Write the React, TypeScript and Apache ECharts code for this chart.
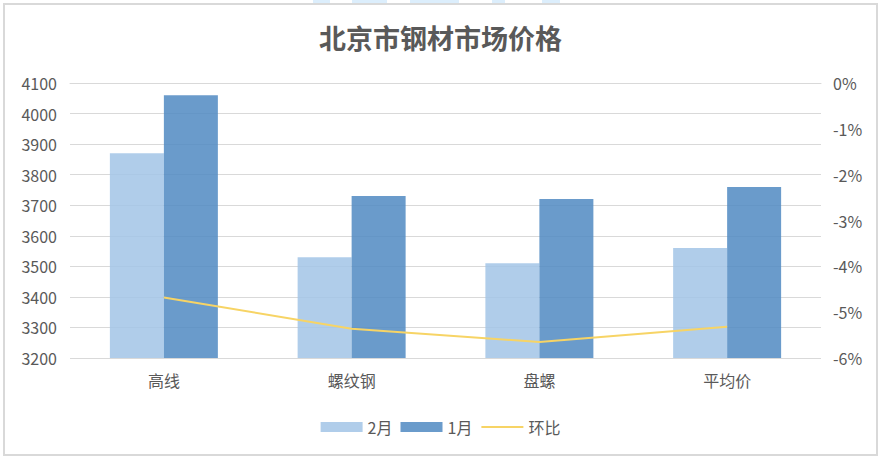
import React, { useEffect, useRef } from "react";
import * as echarts from "echarts";

const categories = ["高线", "螺纹钢", "盘螺", "平均价"];
const feb = [3870, 3530, 3510, 3560];
const jan = [4060, 3730, 3720, 3760];
const mom = [-0.0468, -0.0536, -0.0565, -0.0532];

const FONT = "'Noto Sans CJK SC', 'Liberation Sans', sans-serif";
const TXT = "#595959";

const watermarkBits: [number, number][] = [
  [313, 17],
  [352, 35],
  [410, 49],
  [492, 13],
  [542, 18],
];

export default function App() {
  const ref = useRef<HTMLDivElement>(null);
  useEffect(() => {
    if (!ref.current) return;
    const chart = echarts.init(ref.current, undefined, { renderer: "svg" });
    chart.setOption({
      animation: false,
      backgroundColor: "#ffffff",
      textStyle: { fontFamily: FONT },
      title: {
        text: "北京市钢材市场价格",
        left: "center",
        top: 19,
        textStyle: { fontSize: 27, fontWeight: "bold", color: TXT, fontFamily: FONT },
      },
      graphic: [
        ...watermarkBits.map(([x, w]) => ({
          type: "rect",
          shape: { x, y: 0, width: w, height: 3 },
          style: { fill: "#DCEEFC" },
          silent: true,
        })),
        {
          type: "rect",
          shape: { x: 4, y: 4, width: 873, height: 451 },
          style: { fill: "none", stroke: "#d9d9d9", lineWidth: 2 },
          silent: true,
        },
      ],
      legend: {
        top: 414,
        left: "center",
        itemWidth: 42,
        itemHeight: 10,
        itemGap: 8,
        textStyle: { fontSize: 16, color: TXT, fontFamily: FONT },
        data: [
          { name: "2月", icon: "rect" },
          { name: "1月", icon: "rect" },
          { name: "环比", itemStyle: { opacity: 0 } },
        ],
      },
      grid: { left: 70, right: 60, top: 83, bottom: 101, containLabel: false },
      xAxis: {
        type: "category",
        data: categories,
        axisLine: { lineStyle: { color: "#d9d9d9", width: 1 } },
        axisTick: { show: false },
        axisLabel: { fontSize: 16, color: TXT, margin: 14, fontFamily: FONT },
      },
      yAxis: [
        {
          type: "value",
          min: 3200,
          max: 4100,
          interval: 100,
          axisLine: { show: false },
          axisTick: { show: false },
          axisLabel: {
            fontSize: 16,
            color: TXT,
            margin: 13,
            fontFamily: FONT,
            formatter: (v: number) => String(v),
          },
          splitLine: { lineStyle: { color: "#d9d9d9", width: 1 } },
        },
        {
          type: "value",
          min: -0.06,
          max: 0,
          interval: 0.01,
          axisLine: { show: false },
          axisTick: { show: false },
          splitLine: { show: false },
          axisLabel: {
            fontSize: 16,
            color: TXT,
            margin: 12,
            fontFamily: FONT,
            formatter: (v: number) => `${Math.round(v * 100)}%`,
          },
        },
      ],
      series: [
        {
          name: "2月",
          type: "bar",
          data: feb,
          barWidth: 54,
          barGap: "0%",
          itemStyle: { color: "#A2C4E6", opacity: 0.85 },
        },
        {
          name: "1月",
          type: "bar",
          data: jan,
          barWidth: 54,
          barGap: "0%",
          itemStyle: { color: "#508AC2", opacity: 0.85 },
        },
        {
          name: "环比",
          type: "line",
          yAxisIndex: 1,
          data: mom,
          showSymbol: false,
          symbol: "none",
          lineStyle: { color: "#F7D465", width: 2 },
          itemStyle: { color: "#F7D465" },
        },
      ],
    });
    return () => chart.dispose();
  }, []);
  return (
    <div
      ref={ref}
      style={{ position: "fixed", left: 0, top: 0, width: 881, height: 459 }}
    />
  );
}
